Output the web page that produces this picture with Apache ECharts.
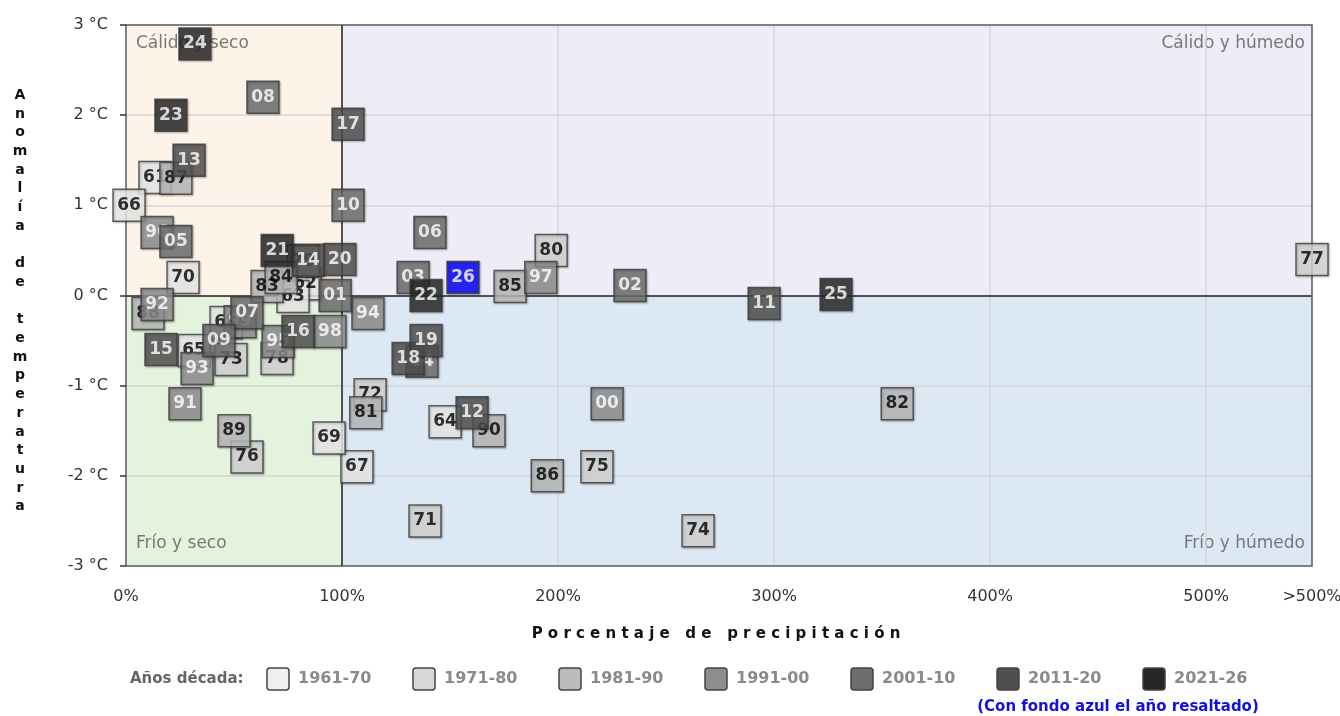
<!DOCTYPE html>
<html><head><meta charset="utf-8">
<script src="https://cdn.jsdelivr.net/npm/echarts@6/dist/echarts.min.js"></script>
<style>html,body{margin:0;padding:0;background:#fff}#c{width:1340px;height:716px}</style>
</head><body><div id="c"></div>
<script>
// ---- data ----
const years = [1961,1962,1963,1964,1965,1966,1967,1968,1969,1970,
  1971,1972,1973,1974,1975,1976,1977,1978,1979,1980,
  1981,1982,1983,1984,1985,1986,1987,1988,1989,1990,
  1991,1992,1993,1994,1995,1996,1997,1998,1999,2000,
  2001,2002,2003,2004,2005,2006,2007,2008,2009,2010,
  2011,2012,2013,2014,2015,2016,2017,2018,2019,2020,
  2021,2022,2023,2024,2025,2026];
// precipitation, % of normal (">500%" values shown at the axis end, 549)
const precipPct = [13.4,82.9,77.3,147.7,31.5,1.4,106.9,46.3,94.0,26.4,
  138.4,113.0,48.6,264.8,218.0,56.0,549,69.9,82.0,196.8,
  111.0,357.0,65.3,71.8,177.8,195.0,23.1,10.2,50.0,168.0,
  27.3,14.4,32.9,112.0,70.4,14.4,192.0,94.4,52.8,222.7,
  96.8,233.3,132.9,137.0,23.1,140.7,56.0,63.4,43.0,102.8,
  295.4,160.2,29.2,84.3,16.2,79.6,102.8,130.6,138.9,99.0,
  70.0,138.9,20.8,31.9,328.7,156.0];
// temperature anomaly, °C
const tempAnom = [1.31,0.13,-0.01,-1.40,-0.61,1.00,-1.90,-0.30,-1.58,0.20,
  -2.50,-1.10,-0.71,-2.61,-1.90,-1.79,0.40,-0.70,0.38,0.50,
  -1.30,-1.20,0.10,0.20,0.10,-2.00,1.30,-0.20,-1.50,-1.50,
  -1.20,-0.10,-0.81,-0.20,-0.51,0.70,0.20,-0.40,-0.29,-1.20,
  0.00,0.11,0.20,-0.73,0.60,0.70,-0.19,2.20,-0.50,1.00,
  -0.09,-1.30,1.50,0.39,-0.60,-0.40,1.90,-0.70,-0.50,0.40,
  0.50,0.00,2.00,2.79,0.01,0.20];
const decadeNames = ['1961-70','1971-80','1981-90','1991-00','2001-10','2011-20','2021-26'];
const highlightYear = 2026;
const xTickValues = [0,100,200,300,400,500,549];
const quadrantNames = ['Cálido y seco','Cálido y húmedo','Frío y seco','Frío y húmedo'];

// ---- styles ----
const decadeColors = ['#efefef','#d8d8d8','#bcbcbc','#8e8e8e','#6e6e6e','#4f4f4f','#262626'];
const decadeText = ['#000','#000','#000','#fff','#fff','#fff','#fff'];
const X_MAX = 549, Y_MIN = -3, Y_MAX = 3;
const FONT = "'DejaVu Sans', Verdana, sans-serif";

function decadeOf(y){ return y <= 1970 ? 0 : Math.min(6, Math.floor((y - 1971) / 10) + 1); }

const pointSeries = decadeNames.map((name, d) => ({
  name, type: 'scatter', z: 10 + d, silent: true,
  symbol: 'rect', symbolSize: 32,
  itemStyle: { color: decadeColors[d], borderColor: '#3c3c3c', borderWidth: 1.5,
    shadowColor: 'rgba(0,0,0,0.3)', shadowBlur: 2, shadowOffsetX: 1, shadowOffsetY: 1 },
  label: { show: true, position: 'inside', formatter: p => p.data.name,
    color: decadeText[d], fontFamily: FONT, fontWeight: 'bold', fontSize: 17 },
  emphasis: { disabled: true },
  data: years.map((yr, i) => ({ yr, i })).filter(o => decadeOf(o.yr) === d).map(o => {
    const item = { name: String(o.yr).slice(2), value: [precipPct[o.i], tempAnom[o.i]] };
    if (o.yr === highlightYear) { item.itemStyle = { color: '#0000ff' }; item.label = { color: '#fff' }; }
    return item;
  })
}));

const gridLine = { color: '#d6d6d6', width: 1.5, type: 'solid' };
const zeroLine = { color: '#1e1e1e', width: 1.5, type: 'solid' };
const bgSeries = {
  type: 'scatter', data: [], z: 1, silent: true,
  markArea: { silent: true, z: 1,
    label: { fontFamily: FONT, fontSize: 17, color: '#777' },
    data: [
      [{ xAxis: 0, yAxis: 3, name: quadrantNames[0], itemStyle: { color: '#fef3e8' },
         label: { position: 'insideTopLeft', distance: 0, offset: [10, 10] } }, { xAxis: 100, yAxis: 0 }],
      [{ xAxis: 100, yAxis: 3, name: quadrantNames[1], itemStyle: { color: '#eeedf7' },
         label: { position: 'insideTopRight', distance: 0, offset: [-7, 10] } }, { xAxis: X_MAX, yAxis: 0 }],
      [{ xAxis: 0, yAxis: 0, name: quadrantNames[2], itemStyle: { color: '#e4f3de' },
         label: { position: 'insideBottomLeft', distance: 0, offset: [10, -14] } }, { xAxis: 100, yAxis: Y_MIN }],
      [{ xAxis: 100, yAxis: 0, name: quadrantNames[3], itemStyle: { color: '#dde8f5' },
         label: { position: 'insideBottomRight', distance: 0, offset: [-7, -14] } }, { xAxis: X_MAX, yAxis: Y_MIN }]
    ]
  },
  markLine: { silent: true, z: 2, symbol: 'none', label: { show: false },
    data: [
      ...[-2, -1, 1, 2].map(v => ({ yAxis: v, lineStyle: gridLine })),
      ...[200, 300, 400, 500].map(v => ({ xAxis: v, lineStyle: gridLine })),
      { yAxis: 0, lineStyle: zeroLine },
      { xAxis: 100, lineStyle: zeroLine }
    ]
  }
};

const yTitle = 'Anomalía de temperatura'.split('').join('\n');
const xTitle = 'Porcentaje de precipitación'.split('').join(' ');

const graphics = [
  { type: 'text', x: 20, y: 86, silent: true,
    style: { text: yTitle, fill: '#111', font: "bold 14px " + FONT, textAlign: 'center', lineHeight: 18.7 } },
  { type: 'text', x: 716, y: 634, silent: true,
    style: { text: xTitle, fill: '#111', font: "bold 15px " + FONT, textAlign: 'center', textVerticalAlign: 'middle' } },
  { type: 'text', x: 130, y: 679, silent: true,
    style: { text: 'Años década:', fill: '#666', font: "bold 15px " + FONT, textVerticalAlign: 'middle' } },
  { type: 'text', x: 1118, y: 707, silent: true,
    style: { text: '(Con fondo azul el año resaltado)', fill: '#1212dd', font: "bold 15px " + FONT, textAlign: 'center', textVerticalAlign: 'middle' } }
];
decadeNames.forEach((n, d) => {
  graphics.push({ type: 'rect', silent: true, shape: { x: 267 + 146 * d, y: 668, width: 22, height: 22, r: 3 },
    style: { fill: decadeColors[d], stroke: '#444', lineWidth: 1.5 } });
  graphics.push({ type: 'text', x: 298 + 146 * d, y: 679, silent: true,
    style: { text: n, fill: '#8a8a8a', font: "bold 16px " + FONT, textVerticalAlign: 'middle' } });
});

const chart = echarts.init(document.getElementById('c'));
chart.setOption({
  animation: false,
  backgroundColor: '#fff',
  grid: { left: 126, right: 28, top: 25, bottom: 150, show: true, z: 4,
    outerBoundsMode: 'none', containLabel: false,
    backgroundColor: 'transparent', borderColor: '#5a5a5a', borderWidth: 1.5 },
  xAxis: { type: 'value', min: 0, max: X_MAX, interval: 100, z: 4,
    axisLine: { show: false }, axisTick: { show: false }, splitLine: { show: false },
    axisLabel: { customValues: xTickValues, margin: 23, fontFamily: FONT, fontSize: 16, color: '#333',
      formatter: v => v >= X_MAX ? '>500%' : v + '%' } },
  yAxis: { type: 'value', min: Y_MIN, max: Y_MAX, interval: 1, z: 4,
    axisLine: { show: false }, splitLine: { show: false },
    axisTick: { show: true, length: 6, lineStyle: { color: '#333', width: 1.5 } },
    axisLabel: { margin: 18, fontFamily: FONT, fontSize: 16, color: '#333', formatter: v => v + ' °C' } },
  series: [bgSeries, ...pointSeries],
  graphic: graphics
});
</script>
</body></html>
